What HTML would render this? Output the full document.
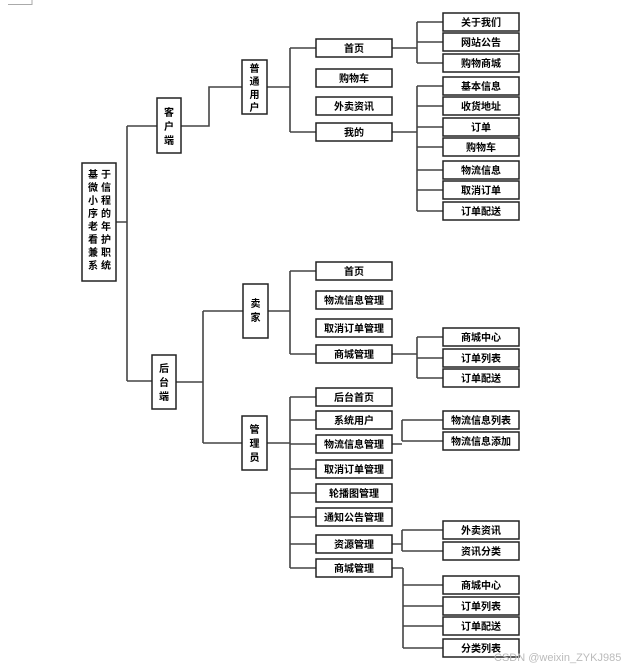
<!DOCTYPE html>
<html><head><meta charset="utf-8"><style>
html,body{margin:0;padding:0;background:#fff;width:623px;height:667px;overflow:hidden}
svg{display:block}
text{font-family:"Liberation Sans","Noto Sans CJK SC",sans-serif;font-weight:bold;font-size:10px;fill:#000}
.l{stroke:#444;stroke-width:1.6;fill:none}
.b{fill:#fff;stroke:#222;stroke-width:1.5}
</style></head><body>
<svg width="623" height="667" viewBox="0 0 623 667">
<path class="l" d="M8 4.5H32V0" style="stroke:#aaa;stroke-width:1"/>
<!-- connectors -->
<path class="l" d="M116 222H127M127 126V381M127 126H157M127 381H152"/>
<path class="l" d="M181 126H209V87H242"/>
<path class="l" d="M267 87H290M290 48V132M290 48H316M290 132H316"/>
<path class="l" d="M392 48H417M417 22V63M417 22H443M417 42H443M417 63H443"/>
<path class="l" d="M392 132H417M417 86V211M417 86H443M417 106H443M417 127H443M417 147H443M417 170H443M417 190H443M417 211H443"/>
<path class="l" d="M176 382H203M203 311V443M203 311H243M203 443H242"/>
<path class="l" d="M268 311H290M290 271V354M290 271H316M290 354H316"/>
<path class="l" d="M392 354H417M417 337V378M417 337H443M417 358H443M417 378H443"/>
<path class="l" d="M267 443H290M290 397V568M290 397H316M290 420H316M290 444H316M290 469H316M290 493H316M290 517H316M290 544H316M290 568H316"/>
<path class="l" d="M392 444H402M402 420V441M402 420H443M402 441H443"/>
<path class="l" d="M392 544H402M402 530V551M402 530H443M402 551H443"/>
<path class="l" d="M392 568H403M403 568V648M403 585H443M403 606H443M403 626H443M403 648H443"/>
<!-- boxes -->
<rect class="b" x="82" y="163" width="34" height="118"/>
<g text-anchor="middle">
<text x="93" y="178">基</text><text x="106" y="178">于</text>
<text x="93" y="191">微</text><text x="106" y="191">信</text>
<text x="93" y="204">小</text><text x="106" y="204">程</text>
<text x="93" y="217">序</text><text x="106" y="217">的</text>
<text x="93" y="230">老</text><text x="106" y="230">年</text>
<text x="93" y="243">看</text><text x="106" y="243">护</text>
<text x="93" y="256">兼</text><text x="106" y="256">职</text>
<text x="93" y="269">系</text><text x="106" y="269">统</text>
</g>
<rect class="b" x="157" y="98" width="24" height="55"/>
<g text-anchor="middle"><text x="169" y="116">客</text><text x="169" y="130">户</text><text x="169" y="144">端</text></g>
<rect class="b" x="242" y="60" width="25" height="54"/>
<g text-anchor="middle"><text x="254.5" y="72">普</text><text x="254.5" y="85">通</text><text x="254.5" y="98">用</text><text x="254.5" y="111">户</text></g>
<rect class="b" x="152" y="355" width="24" height="54"/>
<g text-anchor="middle"><text x="164" y="372">后</text><text x="164" y="386">台</text><text x="164" y="400">端</text></g>
<rect class="b" x="243" y="284" width="25" height="54"/>
<g text-anchor="middle"><text x="255.5" y="307">卖</text><text x="255.5" y="321">家</text></g>
<rect class="b" x="242" y="416" width="25" height="54"/>
<g text-anchor="middle"><text x="254.5" y="433">管</text><text x="254.5" y="447">理</text><text x="254.5" y="461">员</text></g>

<g text-anchor="middle">
<rect class="b" x="316" y="39" width="76" height="18"/><text x="354" y="52">首页</text>
<rect class="b" x="316" y="69" width="76" height="18"/><text x="354" y="82">购物车</text>
<rect class="b" x="316" y="97" width="76" height="18"/><text x="354" y="110">外卖资讯</text>
<rect class="b" x="316" y="123" width="76" height="18"/><text x="354" y="136">我的</text>

<rect class="b" x="443" y="13" width="76" height="18"/><text x="481" y="26">关于我们</text>
<rect class="b" x="443" y="33" width="76" height="18"/><text x="481" y="46">网站公告</text>
<rect class="b" x="443" y="54" width="76" height="18"/><text x="481" y="67">购物商城</text>
<rect class="b" x="443" y="77" width="76" height="18"/><text x="481" y="90">基本信息</text>
<rect class="b" x="443" y="97" width="76" height="18"/><text x="481" y="110">收货地址</text>
<rect class="b" x="443" y="118" width="76" height="18"/><text x="481" y="131">订单</text>
<rect class="b" x="443" y="138" width="76" height="18"/><text x="481" y="151">购物车</text>
<rect class="b" x="443" y="161" width="76" height="18"/><text x="481" y="174">物流信息</text>
<rect class="b" x="443" y="181" width="76" height="18"/><text x="481" y="194">取消订单</text>
<rect class="b" x="443" y="202" width="76" height="18"/><text x="481" y="215">订单配送</text>

<rect class="b" x="316" y="262" width="76" height="18"/><text x="354" y="275">首页</text>
<rect class="b" x="316" y="291" width="76" height="18"/><text x="354" y="304">物流信息管理</text>
<rect class="b" x="316" y="319" width="76" height="18"/><text x="354" y="332">取消订单管理</text>
<rect class="b" x="316" y="345" width="76" height="18"/><text x="354" y="358">商城管理</text>
<rect class="b" x="443" y="328" width="76" height="18"/><text x="481" y="341">商城中心</text>
<rect class="b" x="443" y="349" width="76" height="18"/><text x="481" y="362">订单列表</text>
<rect class="b" x="443" y="369" width="76" height="18"/><text x="481" y="382">订单配送</text>

<rect class="b" x="316" y="388" width="76" height="18"/><text x="354" y="401">后台首页</text>
<rect class="b" x="316" y="411" width="76" height="18"/><text x="354" y="424">系统用户</text>
<rect class="b" x="316" y="435" width="76" height="18"/><text x="354" y="448">物流信息管理</text>
<rect class="b" x="316" y="460" width="76" height="18"/><text x="354" y="473">取消订单管理</text>
<rect class="b" x="316" y="484" width="76" height="18"/><text x="354" y="497">轮播图管理</text>
<rect class="b" x="316" y="508" width="76" height="18"/><text x="354" y="521">通知公告管理</text>
<rect class="b" x="316" y="535" width="76" height="18"/><text x="354" y="548">资源管理</text>
<rect class="b" x="316" y="559" width="76" height="18"/><text x="354" y="572">商城管理</text>

<rect class="b" x="443" y="411" width="76" height="18"/><text x="481" y="424">物流信息列表</text>
<rect class="b" x="443" y="432" width="76" height="18"/><text x="481" y="445">物流信息添加</text>
<rect class="b" x="443" y="521" width="76" height="18"/><text x="481" y="534">外卖资讯</text>
<rect class="b" x="443" y="542" width="76" height="18"/><text x="481" y="555">资讯分类</text>
<rect class="b" x="443" y="576" width="76" height="18"/><text x="481" y="589">商城中心</text>
<rect class="b" x="443" y="597" width="76" height="18"/><text x="481" y="610">订单列表</text>
<rect class="b" x="443" y="617" width="76" height="18"/><text x="481" y="630">订单配送</text>
<rect class="b" x="443" y="639" width="76" height="18"/><text x="481" y="652">分类列表</text>
</g>
<text x="494" y="661" style="font-weight:normal;font-size:11px;fill:#bbb">CSDN @weixin_ZYKJ985</text>
</svg>
</body></html>
